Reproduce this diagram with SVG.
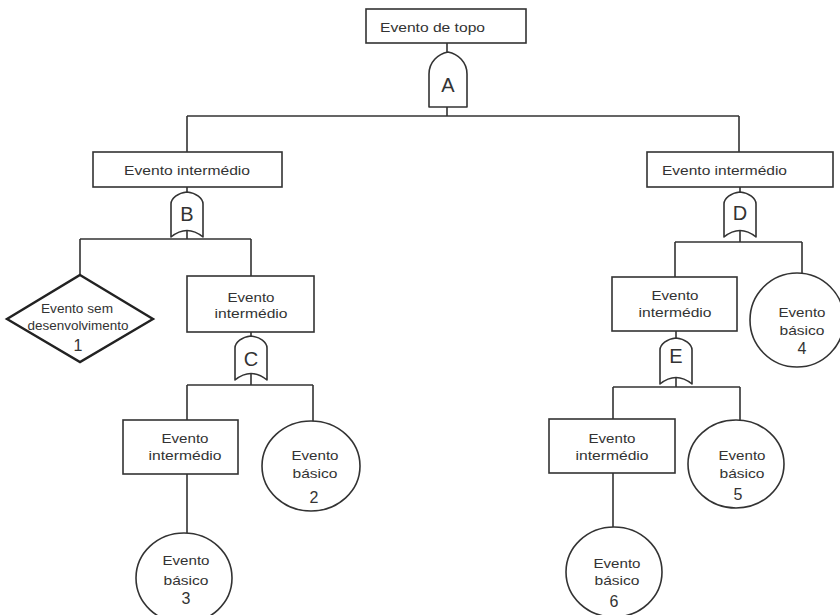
<svg xmlns="http://www.w3.org/2000/svg" width="840" height="615" viewBox="0 0 840 615">
<style>
.box{fill:#fff;stroke:#333;stroke-width:1.6}
.gate{fill:#fff;stroke:#333;stroke-width:1.6;stroke-linejoin:round}
.dia{fill:#fff;stroke:#222;stroke-width:2.4;stroke-linejoin:miter}
.con{fill:none;stroke:#333;stroke-width:1.6}
text{font-family:"Liberation Sans",Arial,sans-serif;fill:#333;font-size:13px}
.c{text-anchor:middle}
.g{font-size:20px;text-anchor:middle}
.n{font-size:16px;text-anchor:middle}
</style>
<rect width="840" height="615" fill="#fff"/>
<g id="connectors" class="con">
<path d="M447,43 V52"/>
<path d="M447,107 V116 M187,116 H739 M187,116 V152 M739,116 V152"/>
<path d="M187,187 V192 M187,231 V239 M80,239 H251 M80,239 V275 M251,239 V276"/>
<path d="M251,332 V336 M251,373 V385 M187,385 H313 M187,385 V420 M313,385 V422"/>
<path d="M187,474 V533"/>
<path d="M740,187 V193 M740,231 V242 M675,242 H802 M675,242 V277 M802,242 V273"/>
<path d="M676,331 V338 M676,377 V387 M613,387 H740 M613,387 V419 M740,387 V420"/>
<path d="M613,473 V527"/>
</g>
<g id="top"><rect class="box" x="366" y="9" width="160" height="34"/><text x="380" y="32" font-size="14" textLength="105" lengthAdjust="spacingAndGlyphs">Evento de topo</text></g>
<g id="gateA"><path class="gate" d="M429,107 V74 C429,62 438,54 448,52 C458,54 467,62 467,74 V107 Z"/><text class="g" x="448" y="92">A</text></g>
<g id="int1"><rect class="box" x="93" y="152" width="189" height="35"/><text class="c" x="187" y="175" textLength="126" lengthAdjust="spacingAndGlyphs">Evento intermédio</text></g>
<g id="gateB"><path class="gate" d="M171,237 V204 C171,198 178,193 187,192 C196,193 203,198 203,204 V237 Q187,224 171,237 Z"/><text class="g" x="187" y="221">B</text></g>
<g id="undev1"><path class="dia" d="M80,275 L153,319 L80,362 L7,319 Z"/><text class="c" x="77" y="313" font-size="14" textLength="72" lengthAdjust="spacingAndGlyphs">Evento sem</text><text class="c" x="78" y="330" font-size="14" textLength="101" lengthAdjust="spacingAndGlyphs">desenvolvimento</text><text class="n" x="78" y="351">1</text></g>
<g id="int2"><rect class="box" x="187" y="276" width="127" height="56"/><text class="c" x="251" y="302" textLength="47" lengthAdjust="spacingAndGlyphs">Evento</text><text class="c" x="251" y="318" textLength="73" lengthAdjust="spacingAndGlyphs">intermédio</text></g>
<g id="gateC"><path class="gate" d="M235,380 V348 C235,342 242,337 251,336 C260,337 267,342 267,348 V380 Q251,367 235,380 Z"/><text class="g" x="251" y="366">C</text></g>
<g id="int3"><rect class="box" x="123" y="420" width="115" height="54"/><text class="c" x="185" y="443" textLength="47" lengthAdjust="spacingAndGlyphs">Evento</text><text class="c" x="185" y="460" textLength="73" lengthAdjust="spacingAndGlyphs">intermédio</text></g>
<g id="basic2"><ellipse class="box" cx="311" cy="466" rx="49" ry="45"/><text class="c" x="315" y="460" textLength="47" lengthAdjust="spacingAndGlyphs">Evento</text><text class="c" x="315" y="478" textLength="45" lengthAdjust="spacingAndGlyphs">básico</text><text class="n" x="314" y="503">2</text></g>
<g id="basic3"><ellipse class="box" cx="184" cy="578" rx="48" ry="45"/><text class="c" x="186" y="565" textLength="47" lengthAdjust="spacingAndGlyphs">Evento</text><text class="c" x="186" y="585" textLength="45" lengthAdjust="spacingAndGlyphs">básico</text><text class="n" x="186" y="604">3</text></g>
<g id="int4"><rect class="box" x="647" y="152" width="186" height="35"/><text x="662" y="175" textLength="125" lengthAdjust="spacingAndGlyphs">Evento intermédio</text></g>
<g id="gateD"><path class="gate" d="M724,237 V204 C724,198 731,193 740,192 C749,193 756,198 756,204 V237 Q740,224 724,237 Z"/><text class="g" x="740" y="220">D</text></g>
<g id="int5"><rect class="box" x="612" y="277" width="125" height="54"/><text class="c" x="675" y="300" textLength="47" lengthAdjust="spacingAndGlyphs">Evento</text><text class="c" x="675" y="317" textLength="73" lengthAdjust="spacingAndGlyphs">intermédio</text></g>
<g id="basic4"><ellipse class="box" cx="797" cy="320" rx="47" ry="47"/><text class="c" x="802" y="317" textLength="47" lengthAdjust="spacingAndGlyphs">Evento</text><text class="c" x="802" y="335" textLength="45" lengthAdjust="spacingAndGlyphs">básico</text><text class="n" x="802" y="354">4</text></g>
<g id="gateE"><path class="gate" d="M660,384 V350 C660,344 667,339 676,338 C685,339 692,344 692,350 V384 Q676,371 660,384 Z"/><text class="g" x="676" y="363">E</text></g>
<g id="int6"><rect class="box" x="549" y="419" width="126" height="54"/><text class="c" x="612" y="443" textLength="47" lengthAdjust="spacingAndGlyphs">Evento</text><text class="c" x="612" y="460" textLength="73" lengthAdjust="spacingAndGlyphs">intermédio</text></g>
<g id="basic5"><ellipse class="box" cx="736" cy="464" rx="48" ry="44"/><text class="c" x="742" y="460" textLength="47" lengthAdjust="spacingAndGlyphs">Evento</text><text class="c" x="742" y="478" textLength="45" lengthAdjust="spacingAndGlyphs">básico</text><text class="n" x="738" y="500">5</text></g>
<g id="basic6"><ellipse class="box" cx="614" cy="572" rx="48" ry="45"/><text class="c" x="617" y="568" textLength="47" lengthAdjust="spacingAndGlyphs">Evento</text><text class="c" x="617" y="585" textLength="45" lengthAdjust="spacingAndGlyphs">básico</text><text class="n" x="614" y="607">6</text></g>
</svg>
